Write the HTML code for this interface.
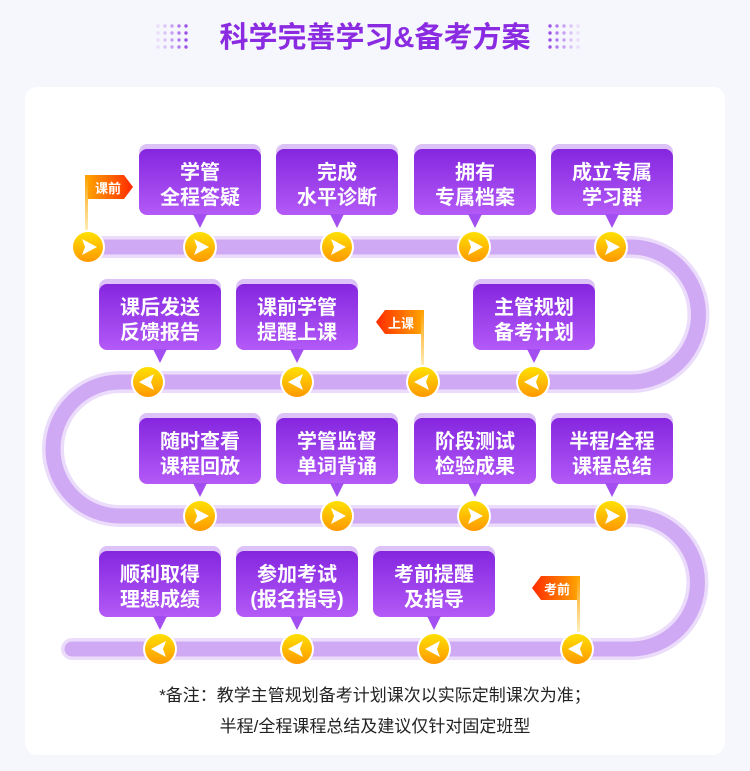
<!DOCTYPE html>
<html><head><meta charset="utf-8"><style>
html,body{margin:0;padding:0;background:#f6f7fd;width:750px;height:771px;overflow:hidden}
svg{display:block}
text{font-family:"Liberation Sans","Noto Sans CJK SC",sans-serif}
</style></head><body>
<svg width="750" height="771" viewBox="0 0 750 771" xmlns="http://www.w3.org/2000/svg">
<defs>
<linearGradient id="bx" x1="0" y1="0" x2="0" y2="1"><stop offset="0" stop-color="#8526df"/><stop offset="1" stop-color="#b35af7"/></linearGradient>
<linearGradient id="ci" x1="0" y1="0" x2="0" y2="1"><stop offset="0" stop-color="#ffe000"/><stop offset="1" stop-color="#ff9800"/></linearGradient>
<linearGradient id="fl" x1="0" y1="0" x2="1" y2="0"><stop offset="0" stop-color="#ffa000"/><stop offset="1" stop-color="#ff2a00"/></linearGradient>
<linearGradient id="flr" x1="1" y1="0" x2="0" y2="0"><stop offset="0" stop-color="#ffa000"/><stop offset="1" stop-color="#ff2a00"/></linearGradient>
<linearGradient id="pole" x1="0" y1="0" x2="0" y2="1"><stop offset="0" stop-color="#ffa000"/><stop offset="1" stop-color="#fff0c0"/></linearGradient>
<g id="cr"><circle r="17" fill="#fff"/><circle r="15" fill="url(#ci)"/><path d="M-6,-8 L9,0 L-6,8 L-3,0Z" fill="#fff"/></g>
<g id="cl"><circle r="17" fill="#fff"/><circle r="15" fill="url(#ci)"/><path d="M6,-8 L-9,0 L6,8 L3,0Z" fill="#fff"/></g>
<g id="col"><circle cx="0" cy="26" r="1.7"/><circle cx="0" cy="33" r="1.7"/><circle cx="0" cy="40" r="1.7"/><circle cx="0" cy="47" r="1.7"/></g>
</defs>
<!-- title dots -->
<use href="#col" x="158" fill="#eadcfb"/><use href="#col" x="165" fill="#dcc4f8"/><use href="#col" x="172" fill="#c9a2f3"/><use href="#col" x="179" fill="#b27cee"/><use href="#col" x="186" fill="#9a52e8"/>
<use href="#col" x="550" fill="#9a52e8"/><use href="#col" x="557" fill="#b27cee"/><use href="#col" x="564" fill="#c9a2f3"/><use href="#col" x="571" fill="#dcc4f8"/><use href="#col" x="578" fill="#eadcfb"/>
<text x="375" y="47" font-size="29" font-weight="bold" fill="#8a2be2" text-anchor="middle">科学完善学习&amp;备考方案</text>
<!-- card -->
<rect x="25" y="87" width="700" height="668" rx="12" fill="#fff"/>
<!-- track -->
<path d="M88,247 H631 A67.5,67.5 0 0 1 631,382 H120 A67,67 0 0 0 120,516 H631 A66.5,66.5 0 0 1 631,649 H72" fill="none" stroke="#ebdcfc" stroke-width="22" stroke-linecap="round"/>
<path d="M88,247 H631 A67.5,67.5 0 0 1 631,382 H120 A67,67 0 0 0 120,516 H631 A66.5,66.5 0 0 1 631,649 H72" fill="none" stroke="#d0a9f4" stroke-width="15" stroke-linecap="round"/>
<!-- boxes -->
<g font-size="20" font-weight="bold" fill="#fff" text-anchor="middle">
<g id="b1"><rect x="139" y="144" width="122" height="68" rx="8" fill="#dcc2f7"/><rect x="139" y="149" width="122" height="66" rx="8" fill="url(#bx)"/><path d="M193,214 L207,214 L200,228Z" fill="#a24ef0"/></g>
<text x="200" y="179">学管</text><text x="200" y="204">全程答疑</text>
<use href="#b1" x="137"/><text x="337" y="179">完成</text><text x="337" y="204">水平诊断</text>
<use href="#b1" x="275"/><text x="475" y="179">拥有</text><text x="475" y="204">专属档案</text>
<use href="#b1" x="412"/><text x="612" y="179">成立专属</text><text x="612" y="204">学习群</text>

<use href="#b1" x="-40" y="135"/><text x="160" y="314">课后发送</text><text x="160" y="339">反馈报告</text>
<use href="#b1" x="97" y="135"/><text x="297" y="314">课前学管</text><text x="297" y="339">提醒上课</text>
<use href="#b1" x="334" y="135"/><text x="534" y="314">主管规划</text><text x="534" y="339">备考计划</text>

<use href="#b1" x="0" y="269"/><text x="200" y="448">随时查看</text><text x="200" y="473">课程回放</text>
<use href="#b1" x="137" y="269"/><text x="337" y="448">学管监督</text><text x="337" y="473">单词背诵</text>
<use href="#b1" x="275" y="269"/><text x="475" y="448">阶段测试</text><text x="475" y="473">检验成果</text>
<use href="#b1" x="412" y="269"/><text x="612" y="448">半程/全程</text><text x="612" y="473">课程总结</text>

<use href="#b1" x="-40" y="402"/><text x="160" y="581">顺利取得</text><text x="160" y="606">理想成绩</text>
<use href="#b1" x="97" y="402"/><text x="297" y="581">参加考试</text><text x="297" y="606">(报名指导)</text>
<use href="#b1" x="234" y="402"/><text x="434" y="581">考前提醒</text><text x="434" y="606">及指导</text>
</g>
<!-- flags -->
<rect x="85" y="175" width="3" height="58" fill="url(#pole)"/>
<path d="M88,175 H124 L133,187 L124,199 H88Z" fill="url(#fl)"/>
<text x="108" y="193" font-size="13" font-weight="bold" fill="#fff" text-anchor="middle">课前</text>
<rect x="421" y="310" width="3" height="58" fill="url(#pole)"/>
<path d="M421,310 H385 L376,322 L385,334 H421Z" fill="url(#flr)"/>
<text x="401" y="328" font-size="13" font-weight="bold" fill="#fff" text-anchor="middle">上课</text>
<rect x="577" y="576" width="3" height="56" fill="url(#pole)"/>
<path d="M577,576 H541 L532,588 L541,600 H577Z" fill="url(#flr)"/>
<text x="557" y="594" font-size="13" font-weight="bold" fill="#fff" text-anchor="middle">考前</text>
<!-- circles -->
<use href="#cr" x="88" y="247"/><use href="#cr" x="200" y="247"/><use href="#cr" x="337" y="247"/><use href="#cr" x="474" y="247"/><use href="#cr" x="611" y="247"/>
<use href="#cl" x="148" y="382"/><use href="#cl" x="297" y="382"/><use href="#cl" x="423" y="382"/><use href="#cl" x="533" y="382"/>
<use href="#cr" x="200" y="516"/><use href="#cr" x="337" y="516"/><use href="#cr" x="474" y="516"/><use href="#cr" x="611" y="516"/>
<use href="#cl" x="160" y="649"/><use href="#cl" x="297" y="649"/><use href="#cl" x="434" y="649"/><use href="#cl" x="577" y="649"/>
<!-- notes -->
<text x="375" y="701" font-size="17" fill="#222" text-anchor="middle">*备注：教学主管规划备考计划课次以实际定制课次为准；</text>
<text x="375" y="732" font-size="17" fill="#222" text-anchor="middle">半程/全程课程总结及建议仅针对固定班型</text>
</svg>
</body></html>
